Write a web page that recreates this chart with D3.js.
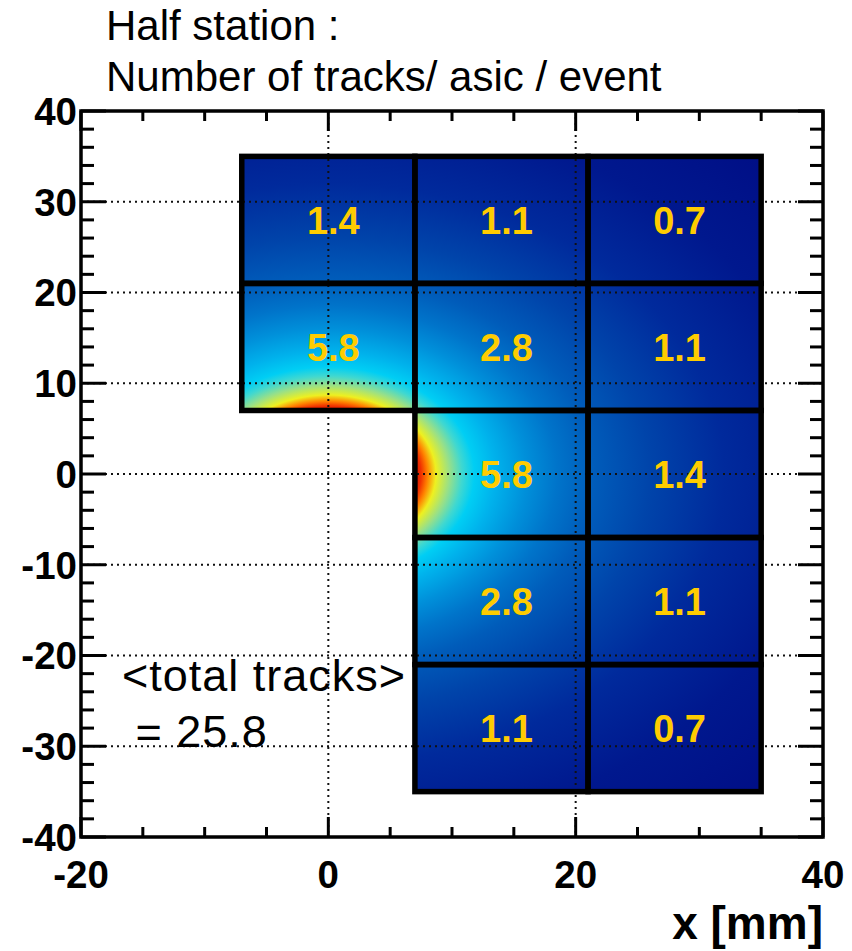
<!DOCTYPE html>
<html>
<head>
<meta charset="utf-8">
<script src="https://cdn.jsdelivr.net/npm/d3@7"></script>
<style>
  html, body { margin: 0; padding: 0; background: #fff; }
  svg { display: block; font-family: "Liberation Sans", Arial, sans-serif; }
</style>
</head>
<body>
<svg id="chart" width="852" height="951"></svg>
<script>
// ---- data ----
const cellXLow = [-7, 7, 21, -7, 7, 21, 7, 21, 7, 21, 7, 21];
const cellYLow = [21, 21, 21, 7, 7, 7, -7, -7, -21, -21, -35, -35];
const cellValues = [1.4, 1.1, 0.7, 5.8, 2.8, 1.1, 5.8, 1.4, 2.8, 1.1, 1.1, 0.7];
const cellSize = 14;
const xMajorTicks = [-20, 0, 20, 40];
const yMajorTicks = [-40, -30, -20, -10, 0, 10, 20, 30, 40];
const xGridLines = [0, 20];
const yGridLines = [-30, -20, -10, 0, 10, 20, 30];
const titleLines = ["Half station :", "Number of tracks/ asic / event"];
const totalLines = ["<total tracks>", " = 25.8"];
const xAxisTitle = "x [mm]";
// radial track-density colour ramp (radius in mm from the beam axis)
const densityRadius = [7, 7.5, 8.0, 8.7, 9.8, 10.8, 11.8, 13.5, 16, 18.5, 21.5, 26, 32, 40, 50];
const densityColor = ["#d01000", "#f03000", "#ff8000", "#eef020", "#98e088", "#40d8d0", "#00cef4",
                      "#00b2ec", "#0090da", "#0074ca", "#005cba", "#0044aa", "#002a9c", "#00188e", "#000e86"];

// ---- layout ----
const svg = d3.select("#chart");
const pL = 81, pR = 823, pT = 111, pB = 837;
const x = d3.scaleLinear().domain([-20, 40]).range([pL, pR]);
const y = d3.scaleLinear().domain([-40, 40]).range([pB, pT]);

const cells = cellValues.map((v, i) => ({x0: cellXLow[i], y0: cellYLow[i], v}));

// gradient
const rMax = d3.max(densityRadius);
const defs = svg.append("defs");
const grad = defs.append("radialGradient")
  .attr("id", "density")
  .attr("gradientUnits", "userSpaceOnUse")
  .attr("cx", 0).attr("cy", 0).attr("r", rMax)
  .attr("gradientTransform", `translate(${x(0)},${y(0)}) scale(${x(1) - x(0)},${y(0) - y(1)})`);
grad.selectAll("stop").data(densityRadius).join("stop")
  .attr("offset", d => d / rMax)
  .attr("stop-color", (d, i) => densityColor[i]);

// cell fills
svg.append("g").selectAll("rect").data(cells).join("rect")
  .attr("x", d => x(d.x0))
  .attr("y", d => y(d.y0 + cellSize))
  .attr("width", d => x(d.x0 + cellSize) - x(d.x0))
  .attr("height", d => y(d.y0) - y(d.y0 + cellSize))
  .attr("fill", "url(#density)");

// grid lines
const grid = svg.append("g").attr("stroke", "#111").attr("stroke-width", 2)
  .attr("stroke-dasharray", "2,4");
grid.selectAll(".gx").data(xGridLines).join("line").attr("class", "gx")
  .attr("x1", d => x(d)).attr("x2", d => x(d))
  .attr("y1", pT).attr("y2", pB);
grid.selectAll(".gy").data(yGridLines).join("line").attr("class", "gy")
  .attr("y1", d => y(d)).attr("y2", d => y(d))
  .attr("x1", pL).attr("x2", pR);

// cell borders
svg.append("g").selectAll("rect").data(cells).join("rect")
  .attr("x", d => x(d.x0))
  .attr("y", d => y(d.y0 + cellSize))
  .attr("width", d => x(d.x0 + cellSize) - x(d.x0))
  .attr("height", d => y(d.y0) - y(d.y0 + cellSize))
  .attr("fill", "none").attr("stroke", "#000").attr("stroke-width", 5.5);

// cell labels
svg.append("g").selectAll("text").data(cells).join("text")
  .attr("x", d => x(d.x0 + cellSize / 2) + 5)
  .attr("y", d => y(d.y0 + cellSize / 2) + 1)
  .attr("text-anchor", "middle")
  .attr("dominant-baseline", "central")
  .attr("font-size", 38).attr("font-weight", "bold")
  .attr("fill", "#ffcc00")
  .text(d => d.v.toFixed(1));

// frame
svg.append("rect").attr("x", pL).attr("y", pT)
  .attr("width", pR - pL).attr("height", pB - pT)
  .attr("fill", "none").attr("stroke", "#000").attr("stroke-width", 3.5);

// axes ticks
const xMinor = d3.range(-20, 40.01, 5).filter(v => !xMajorTicks.includes(v));
const yMinor = d3.range(-40, 40.01, 2).filter(v => !yMajorTicks.includes(v));
const ticks = svg.append("g").attr("stroke", "#000").attr("stroke-width", 3);
const xTicks = [...xMajorTicks.map(v => ({v, len: 20})), ...xMinor.map(v => ({v, len: 10}))];
ticks.selectAll(".xb").data(xTicks).join("line").attr("class", "xb")
  .attr("x1", d => x(d.v)).attr("x2", d => x(d.v))
  .attr("y1", pB).attr("y2", d => pB - d.len);
ticks.selectAll(".xt").data(xTicks).join("line").attr("class", "xt")
  .attr("x1", d => x(d.v)).attr("x2", d => x(d.v))
  .attr("y1", pT).attr("y2", d => pT + d.len);
const yTicks = [...yMajorTicks.map(v => ({v, len: 25})), ...yMinor.map(v => ({v, len: 13}))];
ticks.selectAll(".yl").data(yTicks).join("line").attr("class", "yl")
  .attr("y1", d => y(d.v)).attr("y2", d => y(d.v))
  .attr("x1", pL).attr("x2", d => pL + d.len);
ticks.selectAll(".yr").data(yTicks).join("line").attr("class", "yr")
  .attr("y1", d => y(d.v)).attr("y2", d => y(d.v))
  .attr("x1", pR).attr("x2", d => pR - d.len);

// tick labels
svg.append("g").selectAll("text").data(xMajorTicks).join("text")
  .attr("x", d => x(d)).attr("y", 888)
  .attr("text-anchor", "middle")
  .attr("font-size", 38.5).attr("font-weight", "bold")
  .text(d => d);
svg.append("g").selectAll("text").data(yMajorTicks).join("text")
  .attr("x", pL - 4).attr("y", d => y(d))
  .attr("dy", "0.36em")
  .attr("text-anchor", "end")
  .attr("font-size", 38.5).attr("font-weight", "bold")
  .text(d => d);

// axis title
svg.append("text").attr("x", pR).attr("y", 939)
  .attr("text-anchor", "end").attr("font-size", 46).attr("font-weight", "bold")
  .text(xAxisTitle);

// title
svg.append("g").selectAll("text").data(titleLines).join("text")
  .attr("x", 106).attr("y", (d, i) => 40 + i * 51)
  .attr("font-size", 42)
  .text(d => d);

// total tracks annotation
svg.append("g").selectAll("text").data(totalLines).join("text")
  .attr("x", 122).attr("y", (d, i) => 691 + i * 56)
  .attr("font-size", 45).attr("letter-spacing", 1)
  .style("white-space", "pre")
  .text(d => d);
</script>
</body>
</html>
